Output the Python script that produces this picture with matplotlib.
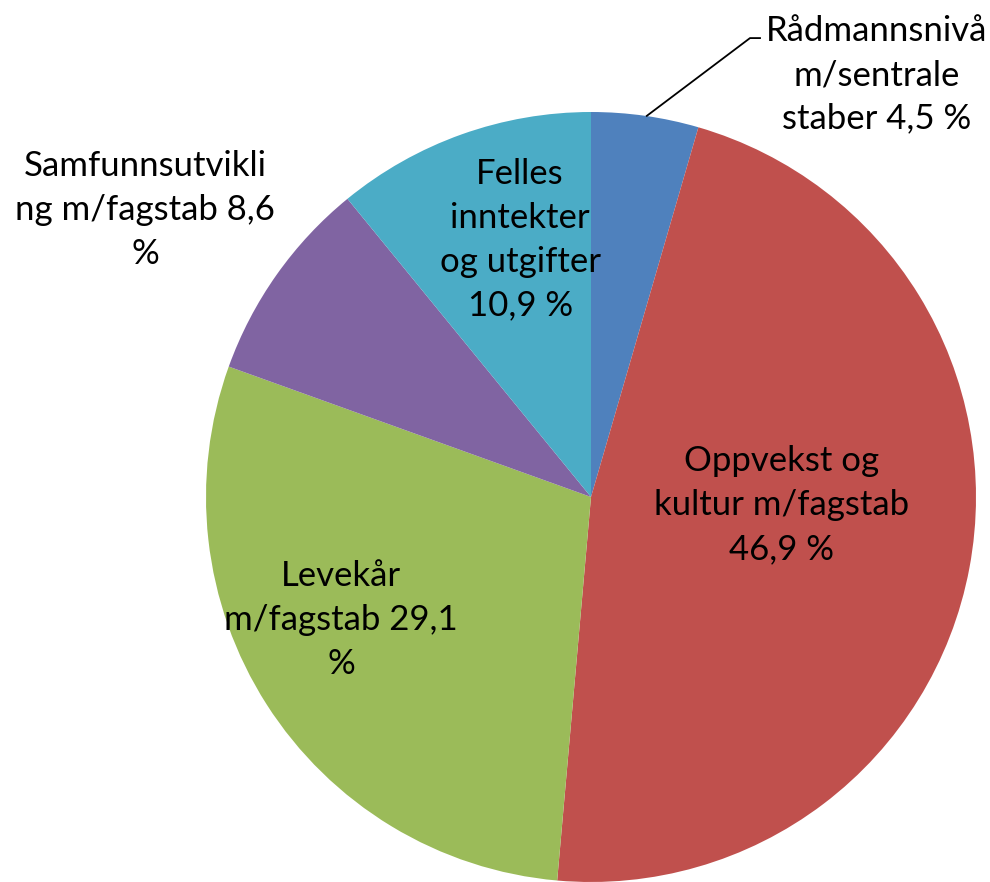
import matplotlib.pyplot as plt

plt.rcParams['font.family'] = ['Lato', 'DejaVu Sans']

labels = ["Rådmannsnivå\nm/sentrale\nstaber 4,5 %",
          "Oppvekst og\nkultur m/fagstab\n46,9 %",
          "Levekår\nm/fagstab 29,1\n%",
          "Samfunnsutvikli\nng m/fagstab 8,6\n%",
          "Felles\ninntekter\nog utgifter\n10,9 %"]
shares = [4.5, 46.9, 29.1, 8.6, 10.9]
colors = ["#4F81BD", "#C0504D", "#9BBB59", "#8064A2", "#4BACC6"]

# label placement (data units, pie radius = 1)
label_pos = [(0.742, 1.096), (0.494, -0.021), (-0.649, -0.319),
             (-1.158, 0.745), (-0.184, 0.668)]

fig = plt.figure(figsize=(9.9, 8.82), dpi=100)
ax = fig.add_axes([0, 0, 1, 1])

wedges, _ = ax.pie(shares, colors=colors, startangle=90, counterclock=False,
                   radius=1, wedgeprops=dict(linewidth=0))

ax.set_xlim(-591 / 385, (990 - 591) / 385)
ax.set_ylim(-(882 - 497) / 385, 497 / 385)
ax.set_aspect('equal')
ax.axis('off')

for txt, (x, y) in zip(labels, label_pos):
    ax.text(x, y, txt, ha='center', va='center', fontsize=25,
            linespacing=1.45, color='black')

# leader line for the small slice
ax.plot([0.145, 0.413, 0.439], [0.990, 1.192, 1.192], color='black', lw=1.3)

fig.savefig("out.png", dpi=100)
